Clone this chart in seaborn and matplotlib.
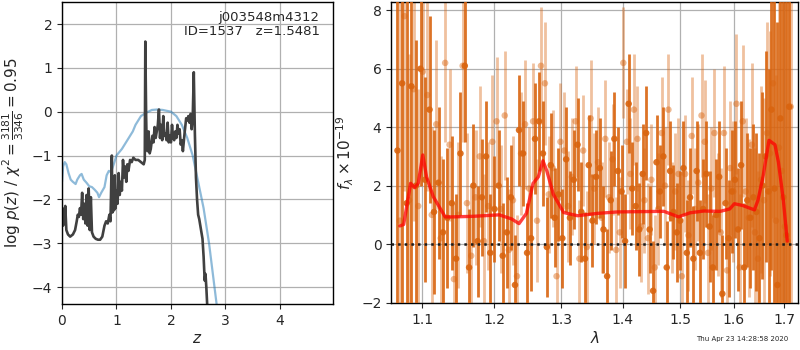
import numpy as np
import pandas as pd
import matplotlib
matplotlib.use("Agg")
import matplotlib.pyplot as plt
import seaborn as sns

# ---------------- left panel: log p(z) ----------------
z_pz = [0.00, 0.01, 0.02, 0.03, 0.05, 0.06, 0.08, 0.11, 0.15, 0.20, 0.24, 0.27,
        0.29, 0.31, 0.33, 0.35, 0.37, 0.39, 0.41, 0.43, 0.45, 0.47, 0.49, 0.51,
        0.53, 0.55, 0.58, 0.62, 0.66, 0.70, 0.74, 0.78, 0.81, 0.84, 0.87, 0.89,
        0.915, 0.925, 0.94, 0.955, 0.97, 0.985, 1.00, 1.02, 1.04, 1.06, 1.08, 1.10,
        1.12, 1.14, 1.16, 1.18, 1.20, 1.22, 1.25, 1.28, 1.31, 1.35, 1.40, 1.45,
        1.50, 1.52, 1.53, 1.545, 1.555, 1.57, 1.59, 1.61, 1.63, 1.66, 1.68, 1.70,
        1.72, 1.74, 1.76, 1.78, 1.80, 1.82, 1.84, 1.86, 1.88, 1.90, 1.92, 1.94,
        1.96, 1.98, 2.00, 2.02, 2.04, 2.06, 2.08, 2.10, 2.12, 2.14, 2.16, 2.18,
        2.20, 2.22, 2.25, 2.28, 2.30, 2.32, 2.34, 2.36, 2.38, 2.40, 2.42, 2.44,
        2.46, 2.48, 2.50, 2.52, 2.54, 2.56, 2.58, 2.60, 2.62, 2.635, 2.65, 2.67]
logp = [-2.5, -2.2, -2.6, -2.3, -2.45, -2.15, -2.7, -2.8, -2.85, -2.8, -2.7, -2.5,
        -2.35, -2.4, -2.2, -2.35, -1.85, -2.45, -2.1, -2.55, -1.9, -2.6, -1.75, -2.7,
        -1.95, -2.75, -2.85, -2.9, -2.92, -2.92, -2.85, -2.6, -2.5, -2.55, -2.35, -2.5,
        -1.0, -2.3, -1.6, -2.25, -1.45, -2.2, -1.8, -2.1, -1.4, -1.9, -1.6, -1.8,
        -1.1, -1.5, -1.25, -1.6, -1.2, -1.35, -1.1, -1.15, -1.05, -1.1, -1.1, -1.15,
        -1.2, -1.1, 1.6, -0.1, -0.8, -0.9, -0.45, -0.95, -0.85, -0.55, -0.7, -0.35,
        -0.6, -0.45, -0.3, 0.05, -0.6, -0.3, -0.65, -0.1, -0.55, -0.5, -0.65, -0.25,
        -0.7, -0.55, -0.7, -0.3, -0.6, -0.65, -0.45, -0.6, -0.3, -0.5, -0.4, -0.75,
        -0.65, -0.9, -0.5, -0.15, -0.2, -0.1, -0.25, -0.05, -0.4, -0.15, 0.9, -0.5,
        -1.5, -2.0, -2.35, -2.45, -2.6, -2.75, -2.9, -3.3, -3.85, -3.7, -4.0, -4.5]

z_chi = [0.0, 0.02, 0.05, 0.08, 0.12, 0.16, 0.20, 0.25, 0.28, 0.33, 0.36, 0.40,
         0.45, 0.50, 0.55, 0.60, 0.65, 0.68, 0.72, 0.78, 0.82, 0.86, 0.90, 0.95,
         1.00, 1.10, 1.20, 1.30, 1.35, 1.45, 1.55, 1.65, 1.75, 1.85, 2.00, 2.10,
         2.20, 2.30, 2.40, 2.50, 2.60, 2.70, 2.78, 2.85]
logp_chi = [-1.6, -1.25, -1.15, -1.2, -1.4, -1.55, -1.6, -1.65, -1.55, -1.45, -1.42, -1.55,
            -1.62, -1.7, -1.72, -1.78, -1.85, -1.95, -1.85, -1.72, -1.45, -1.35, -1.38, -1.2,
            -1.0, -0.85, -0.65, -0.45, -0.3, -0.1, -0.02, 0.04, 0.05, 0.04, 0.0, -0.1,
            -0.3, -0.6, -1.0, -1.6, -2.2, -3.0, -3.8, -4.5]

# ---------------- right panel: spectrum ----------------
wave_a = [1.068, 1.074, 1.080, 1.086, 1.092, 1.098, 1.104, 1.110, 1.116, 1.122, 1.128, 1.134,
          1.140, 1.146, 1.152, 1.158, 1.164, 1.170, 1.176, 1.182, 1.188, 1.194, 1.200, 1.206,
          1.212, 1.218, 1.224, 1.230, 1.236, 1.242, 1.248, 1.254, 1.260, 1.266, 1.272, 1.278,
          1.284, 1.290, 1.296, 1.302, 1.308, 1.314, 1.320, 1.326, 1.332, 1.338, 1.344, 1.350,
          1.356, 1.362, 1.368, 1.374, 1.380, 1.386, 1.392, 1.398, 1.404, 1.410, 1.416, 1.422,
          1.428, 1.434, 1.440, 1.446, 1.452, 1.458, 1.464, 1.470, 1.476, 1.482, 1.488, 1.494,
          1.500, 1.506, 1.512, 1.518, 1.524, 1.530, 1.536, 1.542, 1.548, 1.554, 1.560, 1.566,
          1.572, 1.578, 1.584, 1.590, 1.596, 1.602, 1.608, 1.614, 1.620, 1.626, 1.632, 1.638,
          1.644, 1.650, 1.656, 1.662, 1.668, 1.674, 1.680, 1.686, 1.692, 1.698, 1.704, 1.710]
flux_a = [3.2, 5.5, 1.4, 5.4, 2.0, 6.0, 2.2, 4.6, 1.1, 2.1, 0.4, 0.9,
          1.4, -0.5, 3.1, 6.1, -0.8, 2.0, 0.1, 1.6, 3.0, -0.3, 1.2, 2.0,
          -0.4, 0.4, 1.6, -1.4, 3.9, 3.1, -0.3, 0.2, 3.6, 4.2, 3.1, -0.1,
          2.7, 0.9, 1.7, 0.2, 2.9, 0.9, 2.2, 3.4, 1.1, -0.5, 2.7, 0.8,
          2.3, 2.6, 0.5, -1.1, 1.5, 3.6, 2.5, 1.8, 0.1, 4.8, 1.9, 1.3,
          0.5, 2.4, 3.8, 0.5, -1.6, 2.8, 1.8, 3.0, -0.8, 2.5, 1.1, 0.4,
          0.8, 2.6, -0.3, 1.6, -0.5, 2.5, -0.3, 1.2, 2.4, 0.6, -0.8, 1.0,
          2.3, -1.7, 1.4, 0.2, 1.8, 2.2, 0.5, 2.7, -0.8, 1.5, 0.9, 1.6,
          1.1, 0.2, 2.0, 3.0, 1.8, 4.6, 1.9, -1.4, 4.3, 1.6, 0.3, 4.7]
err_a = [12, 9, 8, 10, 5, 4, 3.5, 3.2, 2.8, 2.6, 2.5, 2.4,
         2.3, 2.2, 2.1, 2.6, 2.0, 2.1, 1.9, 2.0, 1.9, 2.0, 1.8, 1.9,
         1.8, 1.9, 1.8, 1.7, 1.9, 1.8, 1.7, 1.8, 1.9, 1.7, 1.8, 1.7,
         1.8, 1.7, 1.6, 1.7, 1.8, 1.6, 1.7, 1.6, 1.7, 1.6, 1.7, 1.6,
         1.6, 1.7, 1.5, 1.6, 1.7, 1.6, 1.5, 1.6, 1.6, 1.7, 1.6, 1.5,
         1.6, 1.7, 1.6, 1.5, 1.7, 1.6, 1.6, 1.7, 1.6, 1.7, 1.6, 1.7,
         1.7, 1.6, 1.8, 1.7, 1.8, 1.7, 1.8, 1.7, 1.8, 1.9, 1.8, 1.9,
         1.9, 2.0, 1.9, 2.0, 2.1, 2.0, 2.1, 2.2, 2.2, 2.3, 2.4, 2.5,
         2.7, 2.9, 3.2, 3.6, 4.2, 5.5, 7.0, 9.0, 12.0, 10.0, 14.0, 15.0]

wave_b = [1.071, 1.077, 1.083, 1.089, 1.095, 1.101, 1.107, 1.113, 1.119, 1.125, 1.131, 1.137,
          1.143, 1.149, 1.155, 1.161, 1.167, 1.173, 1.179, 1.185, 1.191, 1.197, 1.203, 1.209,
          1.215, 1.221, 1.227, 1.233, 1.239, 1.245, 1.251, 1.257, 1.263, 1.269, 1.275, 1.281,
          1.287, 1.293, 1.299, 1.305, 1.311, 1.317, 1.323, 1.329, 1.335, 1.341, 1.347, 1.353,
          1.359, 1.365, 1.371, 1.377, 1.383, 1.389, 1.395, 1.401, 1.407, 1.413, 1.419, 1.425,
          1.431, 1.437, 1.443, 1.449, 1.455, 1.461, 1.467, 1.473, 1.479, 1.485, 1.491, 1.497,
          1.503, 1.509, 1.515, 1.521, 1.527, 1.533, 1.539, 1.545, 1.551, 1.557, 1.563, 1.569,
          1.575, 1.581, 1.587, 1.593, 1.599, 1.605, 1.611, 1.617, 1.623, 1.629, 1.635, 1.641,
          1.647, 1.653, 1.659, 1.665, 1.671, 1.677, 1.683, 1.689, 1.695, 1.701, 1.707, 1.713]
flux_b = [0.8, 7.8, 1.5, 5.3, 1.3, 5.9, 5.1, 1.0, 4.1, 0.2, 6.2, 3.4,
          -1.2, 1.0, 6.1, 1.4, -0.4, 1.6, 3.0, 0.1, 1.3, 3.5, 4.2, 1.2,
          4.4, -0.2, 1.5, -1.1, 3.1, 4.1, 1.9, 4.2, 0.8, 6.1, 5.5, 1.7,
          2.6, -1.1, 3.5, 3.2, 1.3, 2.3, 4.2, -0.5, 3.2, -0.1, 4.3, 1.9,
          2.8, 0.9, 3.6, 1.6, 2.9, -0.2, 0.4, 6.2, 3.5, 2.4, 4.6, 3.6,
          0.6, 1.5, 0.2, 2.2, -0.8, 1.2, 3.8, 2.0, 4.6, 0.9, 1.8, 2.4,
          -1.1, 2.4, 0.3, 3.7, 1.2, 2.1, 4.4, 3.5, -0.3, 1.9, 3.8, 1.0,
          0.4, 3.8, -0.9, 2.6, 1.8, 4.8, -0.8, 4.2, 1.8, 0.9, 3.4, 0.4,
          -0.5, 2.2, 1.5, 3.8, 3.1, 5.5, 0.8, 3.3, 2.5, 0.6, 0.1, 4.7]
err_b = [9, 6, 5, 4.5, 4, 3.6, 3.3, 3.0, 2.9, 2.8, 2.7, 2.6,
         2.6, 2.5, 2.6, 2.4, 2.4, 2.3, 2.4, 2.3, 2.2, 2.3, 2.2, 2.2,
         2.2, 2.1, 2.2, 2.1, 2.1, 2.2, 2.1, 2.0, 2.1, 2.0, 2.1, 2.0,
         2.0, 2.1, 2.0, 2.0, 1.9, 2.0, 1.9, 2.0, 1.9, 1.9, 2.0, 1.9,
         1.9, 1.9, 2.0, 1.9, 1.9, 1.8, 1.9, 1.9, 1.8, 1.9, 1.9, 1.8,
         1.9, 1.8, 1.9, 1.9, 1.8, 1.9, 1.9, 2.0, 1.9, 1.9, 2.0, 1.9,
         2.0, 2.0, 1.9, 2.0, 2.1, 2.0, 2.1, 2.1, 2.0, 2.1, 2.2, 2.1,
         2.2, 2.3, 2.2, 2.3, 2.4, 2.4, 2.5, 2.6, 2.5, 2.7, 2.8, 2.9,
         3.0, 3.2, 3.5, 3.8, 4.2, 4.6, 5.0, 6.0, 7.5, 9.0, 11.0, 13.0]

wave_model = [1.071, 1.076, 1.085, 1.090, 1.095, 1.101, 1.106, 1.115, 1.131, 1.142, 1.170,
              1.207, 1.225, 1.236, 1.247, 1.257, 1.265, 1.272, 1.278, 1.288, 1.304, 1.326,
              1.358, 1.391, 1.471, 1.497, 1.518, 1.543, 1.574, 1.592, 1.601, 1.617, 1.640,
              1.647, 1.657, 1.669, 1.681, 1.688, 1.698, 1.706]
flux_model = [0.62, 0.67, 2.08, 1.93, 2.08, 3.05, 2.3, 1.62, 0.93, 0.93, 0.95,
              1.0, 0.86, 0.70, 1.05, 2.08, 2.3, 2.85, 2.5, 1.7, 1.08, 0.97,
              1.05, 1.1, 1.12, 0.93, 1.07, 1.13, 1.12, 1.2, 1.38, 1.32, 1.17,
              1.5, 2.3, 3.55, 3.4, 2.8, 1.5, 0.1]

xticks_right = [1.1, 1.2, 1.3, 1.4, 1.5, 1.6, 1.7]
xticks_left = [0, 1, 2, 3, 4]
yticks_left = [-4, -3, -2, -1, 0, 1, 2]
yticks_right = [-2, 0, 2, 4, 6, 8]

# ---------------- figure ----------------
sns.set_style("ticks")
plt.rcParams['font.family'] = ['DejaVu Sans']
plt.rcParams['mathtext.fontset'] = 'dejavusans'

fig = plt.figure(figsize=(8, 3.5), dpi=100)
ax1 = fig.add_axes([0.0775, 0.131, 0.339, 0.863])
ax2 = fig.add_axes([0.489, 0.134, 0.509, 0.860])

for ax in (ax1, ax2):
    ax.grid(True, color='#b0b0b0', linewidth=0.9)
    ax.set_axisbelow(True)
    for s in ax.spines.values():
        s.set_linewidth(1.0)
        s.set_color('black')
    ax.tick_params(labelsize=10, direction='out', length=3.5, width=0.8)

df_pz = pd.DataFrame({'z': z_pz, 'logp': logp})
df_chi = pd.DataFrame({'z': z_chi, 'logp': logp_chi})
sns.lineplot(data=df_chi, x='z', y='logp', ax=ax1, color='#1f77b4', alpha=0.5,
             linewidth=1.6, sort=False)
sns.lineplot(data=df_pz, x='z', y='logp', ax=ax1, color='0.25', linewidth=1.9,
             sort=False)
ax1.set_xlim(0, 4.98)
ax1.set_ylim(-4.39, 2.5)
ax1.set_xticks(xticks_left)
ax1.set_yticks(yticks_left)
ax1.set_xlabel(r'$z$', fontsize=11, labelpad=2)
ax1.set_ylabel(r'log $p(z)$ / $\chi^2=\frac{3181}{3346}=0.95$', fontsize=11, labelpad=4)
ax1.text(0.95, 0.97, 'j003548m4312\nID=1537   z=1.5481', transform=ax1.transAxes,
         ha='right', va='top', fontsize=9.5, linespacing=1.1)

orange = '#d9640f'
# light series
ax2.errorbar(wave_b, flux_b, yerr=err_b, fmt='none', ecolor=orange, elinewidth=2.0,
             alpha=0.4, zorder=2)
sns.scatterplot(x=wave_b, y=flux_b, ax=ax2, color=orange, alpha=0.45, s=22,
                edgecolor='none', zorder=2.1)
# dark series
ax2.errorbar(wave_a, flux_a, yerr=err_a, fmt='none', ecolor=orange, elinewidth=2.0,
             alpha=0.9, zorder=3)
sns.scatterplot(x=wave_a, y=flux_a, ax=ax2, color=orange, alpha=0.9, s=22,
                edgecolor='none', zorder=3.1)
ax2.axhline(0, color='0.1', linestyle=':', linewidth=1.8, zorder=4)
sns.lineplot(x=wave_model, y=flux_model, ax=ax2, color='red', alpha=0.75,
             linewidth=2.4, sort=False, zorder=5)

ax2.set_xscale('log')
ax2.set_xlim(1.06, 1.729)
ax2.set_ylim(-2.02, 8.28)
ax2.set_xticks(xticks_right)
ax2.set_xticklabels([f'{t:.1f}' for t in xticks_right])
ax2.minorticks_off()
ax2.set_yticks(yticks_right)
ax2.set_xlabel(r'$\lambda$', fontsize=11, labelpad=2)
ax2.set_ylabel(r'$f_\lambda\times10^{-19}$', fontsize=11, labelpad=4)

fig.text(0.985, 0.022, 'Thu Apr 23 14:28:58 2020', ha='right', va='bottom', fontsize=5)

fig.savefig('out.png', dpi=100)
